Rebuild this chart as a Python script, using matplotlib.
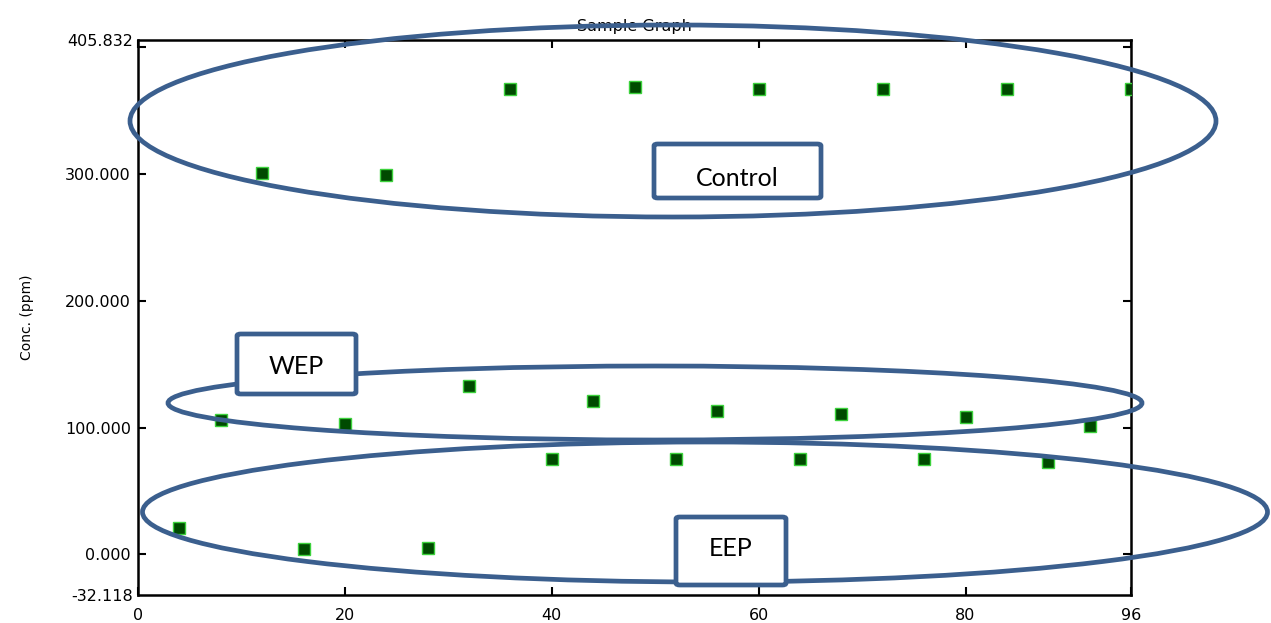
import matplotlib
matplotlib.use('Agg')
import matplotlib.pyplot as plt
from matplotlib.patches import Ellipse, FancyBboxPatch, Rectangle

# data
control_x = [12, 24, 36, 48, 60, 72, 84, 96]
control_y = [301, 299, 367, 368.5, 367, 367, 367, 367]
wep_x = [8, 20, 32, 44, 56, 68, 80, 92]
wep_y = [106, 103, 133, 121, 113, 111, 108, 101]
eep_x = [4, 16, 28, 40, 52, 64, 76, 88]
eep_y = [20.5, 4, 5, 75, 75, 75, 75, 73]

x_ticks = [0, 20, 40, 60, 80, 96]
y_ticks = [0, 100, 200, 300, 400]
y_tick_labels = ['0.000', '100.000', '200.000', '300.000', '']
y_limits = [-32.118, 405.832]

W, H = 1271, 623
fig = plt.figure(figsize=(W / 100, H / 100), dpi=100)
ax = fig.add_axes([138 / W, 1 - 595 / H, (1131 - 138) / W, (595 - 40) / H])

xs = control_x + wep_x + eep_x
ys = control_y + wep_y + eep_y
ax.plot(xs, ys, ls='none', marker='s', markersize=8.5, markerfacecolor='#004a00',
        markeredgecolor='#3cd23c', markeredgewidth=1.0, zorder=3)

ax.set_xlim(0, 96)
ax.set_ylim(*y_limits)
ax.set_xticks(x_ticks)
ax.set_yticks(y_ticks)
ax.set_yticklabels(y_tick_labels)
ax.set_yticks(y_limits, minor=True)
ax.set_yticklabels(['%.3f' % v for v in y_limits], minor=True)
ax.tick_params(which='major', direction='in', length=6, width=1.5, top=True, right=True,
               labelsize=11.5, colors='black')
ax.tick_params(which='minor', length=0, labelsize=11.5)
ax.tick_params(axis='x', pad=9)
ax.tick_params(axis='y', pad=5)
for s in ax.spines.values():
    s.set_linewidth(1.8)
ax.set_ylabel('Conc. (ppm)', fontsize=10, labelpad=22)

# title, partly cut off at the top
fig.text(634 / W, 1 - 31 / H, 'Sample Graph', ha='center', va='baseline', fontsize=11.5)
fig.add_artist(Rectangle((0, 1 - 19 / H), 1, 19 / H, transform=fig.transFigure,
                         facecolor='white', edgecolor='none', zorder=5))


def px(x, y):
    return x / W, 1 - y / H


blue = '#3b5f8e'
# ellipses: centre and size in pixels
for cx, cy, ew, eh in [(673, 121, 1086, 192), (655, 403, 974, 74), (705, 512, 1125, 140)]:
    e = Ellipse(px(cx, cy), ew / W, eh / H, transform=fig.transFigure, fill=False,
                edgecolor=blue, linewidth=3.4, zorder=10, clip_on=False)
    fig.add_artist(e)

# labelled boxes: left, top, right, bottom in pixels, then text centre y
for label, (x0, y0, x1, y1), ty in [('Control', (654, 144, 821, 198), 178),
                                    ('WEP', (237, 334, 356, 394), 366),
                                    ('EEP', (676, 517, 786, 585), 548)]:
    b = FancyBboxPatch(px(x0, y1), (x1 - x0) / W, (y1 - y0) / H,
                       boxstyle='round,pad=0,rounding_size=0.003', transform=fig.transFigure,
                       facecolor='white', edgecolor=blue, linewidth=3.4, zorder=11)
    fig.add_artist(b)
    tx, tyf = px((x0 + x1) / 2, ty)
    fig.text(tx, tyf, label, ha='center', va='center', fontsize=18,
             family=['Lato', 'DejaVu Sans'], zorder=12)

fig.savefig('out.png', dpi=100)
